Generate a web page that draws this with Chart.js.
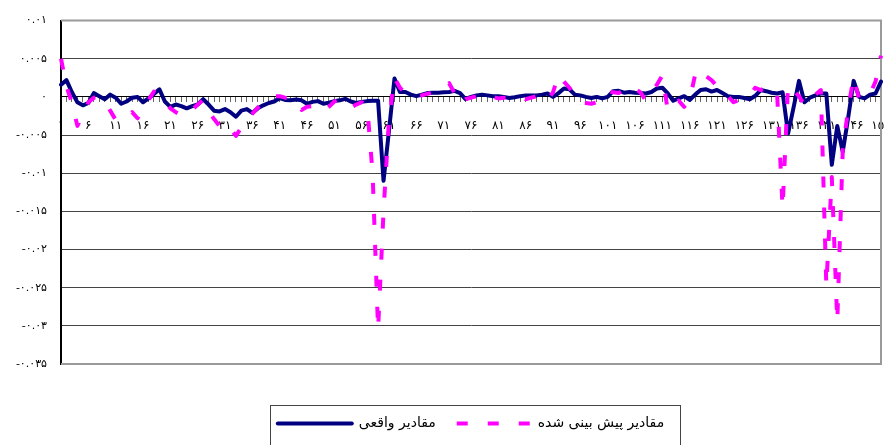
<!DOCTYPE html>
<html>
<head>
<meta charset="utf-8">
<script src="https://cdn.jsdelivr.net/npm/chart.js@4.4.1/dist/chart.umd.min.js"></script>
<style>
    html, body { margin: 0; padding: 0; background: #fff; }
</style>
</head>
<body>
<canvas id="myChart" width="884" height="445"></canvas>
<script>
// actual values (navy line), one per period
const actual = [
    0.0016, 0.0022, 0.0006, -0.0007, -0.0011, -0.0008, 0.0005, 0.0001, -0.0003, 0.0003,
    -0.0001, -0.0009, -0.0006, -0.0001, 0.0000, -0.0007, -0.0002, 0.0004, 0.0010, -0.0006,
    -0.0013, -0.0010, -0.0012, -0.0015, -0.0012, -0.0010, -0.0003, -0.0010, -0.0018, -0.0019,
    -0.0016, -0.0020, -0.0026, -0.0018, -0.0016, -0.0021, -0.0015, -0.0011, -0.0008, -0.0006,
    -0.00015, -0.0004, -0.00045, -0.00035, -0.00045, -0.0009, -0.00065, -0.00055, -0.0009, -0.00075,
    -0.00055, -0.00045, -0.00025, -0.0006, -0.0008, -0.00065, -0.00055, -0.0005, -0.0005, -0.0110,
    -0.0044, 0.0024, 0.00065, 0.00065, 0.0003, 0.0001, 0.0003, 0.0005, 0.00055, 0.00055,
    0.0006, 0.00065, 0.0008, 0.0005, -0.0003, 0.0000, 0.0002, 0.0003, 0.0002, 0.0001,
    0.0001, 0.0000, -0.00015, -0.00005, 0.0001, 0.0002, 0.0002, 0.0002, 0.0003, 0.00045,
    0.0000, 0.0005, 0.0011, 0.0010, 0.0003, 0.0002, 0.0000, -0.00015, 0.0000, -0.0002,
    0.0000, 0.00075, 0.0008, 0.00055, 0.00065, 0.00055, 0.0005, 0.00045, 0.00065, 0.0011,
    0.0012, 0.00045, -0.0005, -0.0002, 0.0001, -0.0004, 0.0003, 0.0009, 0.0010, 0.0007,
    0.0009, 0.0005, 0.0001, 0.0000, 0.0000, -0.00015, -0.0003, 0.00015, 0.0009, 0.00075,
    0.00055, 0.00045, 0.0006, -0.0048, -0.0014, 0.0021, -0.0007, -0.0001, 0.0002, 0.00045,
    0.00045, -0.0089, -0.0038, -0.0072, -0.0027, 0.0021, 0.0000, -0.0002, 0.0003, 0.00045,
    0.0020
];

// predicted values (magenta dashed line)
const predicted = [
    0.0050, 0.0014, -0.0008, -0.0038, -0.0022, -0.0007, -0.0001, 0.0000, -0.0006, -0.0018,
    -0.0030, -0.0031, -0.0026, -0.0020, -0.0028, -0.0016, -0.0004, 0.0007, 0.0004, -0.0006,
    -0.0015, -0.0020, -0.0024, -0.0024, -0.0017, -0.0010, -0.0004, -0.0019, -0.0029, -0.0038,
    -0.0046, -0.0042, -0.0051, -0.0040, -0.0030, -0.0022, -0.0014, -0.0007, -0.0002, 0.0001,
    0.0001, -0.0001, -0.0002, -0.0005, -0.0017, -0.0013, -0.0012, -0.0014, -0.0019, -0.0013,
    -0.0006, -0.0003, -0.0008, -0.0014, -0.0010, -0.0007, -0.0012, -0.0100, -0.0305, -0.0150,
    -0.0030, 0.0025, 0.0012, 0.0005, 0.0003, 0.0000, 0.0002, 0.0004, 0.0006, 0.0009,
    0.0014, 0.0018, 0.0005, -0.0009, -0.0003, -0.0001, 0.0001, 0.0003, 0.0004, 0.0000,
    -0.0002, -0.0001, -0.0001, 0.0001, 0.0000, -0.0003, -0.0001, 0.0001, 0.0003, -0.0004,
    0.0006, 0.0029, 0.0020, 0.0012, 0.0002, -0.0007, -0.0008, -0.0009, -0.0007, 0.0002,
    0.0008, 0.0006, 0.0005, 0.0009, 0.0015, 0.0011, 0.0006, -0.0005, 0.0006, 0.0016,
    0.0028, -0.0018, -0.0012, -0.0005, -0.0013, -0.0004, 0.0029, 0.0019, 0.0027, 0.0022,
    0.0014, 0.0004, 0.0001, -0.0007, -0.0004, -0.0002, 0.0002, 0.0012, 0.0009, 0.0012,
    0.0013, 0.0004, -0.0146, 0.0016, 0.0008, 0.0001, -0.0011, -0.0002, 0.0003, 0.0009,
    -0.0248, -0.0105, -0.0295, -0.0070, -0.0015, 0.0026, -0.0003, 0.0000, 0.0004, 0.0020,
    0.0054
];

// periods 1..151
const categories = [];
for (let i = 1; i <= actual.length; i++) {
    categories.push(i);
}

const yTickValues = [-0.035, -0.03, -0.025, -0.02, -0.015, -0.01, -0.005, 0, 0.005, 0.01];
const yTickLabels = ['-۰.۰۳۵', '-۰.۰۳', '-۰.۰۲۵', '-۰.۰۲', '-۰.۰۱۵', '-۰.۰۱', '-۰.۰۰۵', '۰', '۰.۰۰۵', '۰.۰۱'];

const actualName = 'مقادیر واقعی';
const predictedName = 'مقادیر پیش بینی شده';

function toFa(n) {
    return String(n).replace(/\d/g, d => '۰۱۲۳۴۵۶۷۸۹'[d]);
}

Chart.defaults.font.family = "'DejaVu Sans', sans-serif";
Chart.defaults.color = '#000';

// plot frame, legend placement and legend border
const frame = {
    id: 'frame',
    afterLayout(chart) {
        const lg = chart.legend;
        const d = 395.5 - lg.top;
        lg.top += d;
        lg.bottom += d;
    },
    beforeDatasetsDraw(chart) {
        const {ctx, chartArea: a} = chart;
        ctx.save();
        ctx.strokeStyle = '#9a9a9a';
        ctx.lineWidth = 2;
        ctx.beginPath();
        ctx.moveTo(a.left, a.top);
        ctx.lineTo(a.right, a.top);
        ctx.lineTo(a.right, a.bottom);
        ctx.lineTo(a.left, a.bottom);
        ctx.stroke();
        ctx.restore();
    },
    afterDraw(chart) {
        const {ctx} = chart;
        const hb = chart.legend.legendHitBoxes;
        if (!hb || !hb.length) return;
        const left = hb[0].left - 8;
        const last = hb[hb.length - 1];
        const right = last.left + last.width + 16;
        ctx.save();
        ctx.strokeStyle = '#444';
        ctx.lineWidth = 1;
        ctx.strokeRect(Math.round(left) + 0.5, 405.5, Math.round(right - left), 60);
        ctx.restore();
    }
};

new Chart(document.getElementById('myChart'), {
    type: 'line',
    data: {
        labels: categories,
        datasets: [
            {
                label: predictedName,
                data: predicted,
                borderColor: '#ff00ff',
                backgroundColor: '#ff00ff',
                borderWidth: 4,
                borderDash: [11, 20],
                borderJoinStyle: 'round',
                pointRadius: 0,
                pointStyle: 'line',
                tension: 0
            },
            {
                label: actualName,
                data: actual,
                borderColor: '#000080',
                backgroundColor: '#000080',
                borderWidth: 4,
                borderJoinStyle: 'round',
                borderCapStyle: 'round',
                pointRadius: 0,
                pointStyle: 'line',
                tension: 0
            }
        ]
    },
    options: {
        responsive: false,
        animation: false,
        devicePixelRatio: 1,
        layout: {
            padding: { top: 19, right: 3, left: 0, bottom: 36 }
        },
        plugins: {
            tooltip: { enabled: false },
            legend: {
                position: 'bottom',
                fullSize: false,
                reverse: true,
                labels: {
                    usePointStyle: true,
                    pointStyleWidth: 74,
                    padding: 21,
                    color: '#000',
                    font: { size: 14 },
                    generateLabels: function (chart) {
                        const items = Chart.defaults.plugins.legend.labels.generateLabels(chart);
                        items.forEach(function (it) {
                            const ds = chart.data.datasets[it.datasetIndex];
                            it.lineDash = ds.borderDash || [];
                            it.lineWidth = ds.borderWidth;
                            it.strokeStyle = ds.borderColor;
                            it.fillStyle = ds.borderColor;
                            it.lineCap = ds.borderCapStyle || 'butt';
                        });
                        return items;
                    }
                }
            }
        },
        scales: {
            x: {
                type: 'category',
                offset: false,
                position: { y: 0 },
                afterFit: function (scale) {
                    scale.paddingLeft = 0;
                    scale.paddingRight = 0;
                },
                grid: {
                    drawOnChartArea: false,
                    drawTicks: true,
                    tickLength: 5,
                    color: '#666'
                },
                border: { color: '#000', width: 1 },
                ticks: {
                    autoSkip: false,
                    maxRotation: 0,
                    minRotation: 0,
                    padding: 17,
                    font: { size: 12 },
                    callback: function (value, index) {
                        return index % 5 === 0 ? toFa(categories[index]) : '';
                    }
                }
            },
            y: {
                min: -0.035,
                max: 0.01,
                afterBuildTicks: function (scale) {
                    scale.ticks = yTickValues.map(v => ({ value: v }));
                },
                afterFit: function (scale) {
                    scale.width = 61;
                },
                grid: {
                    drawTicks: false,
                    color: function (ctx) {
                        const v = ctx.tick.value;
                        if (v === 0.01 || v === -0.035) return 'rgba(0,0,0,0)';
                        if (v === 0) return '#000';
                        return '#444';
                    },
                    lineWidth: 1
                },
                border: { color: '#000', width: 2 },
                ticks: {
                    padding: 14,
                    font: { size: 11 },
                    callback: function (value, index) {
                        return yTickLabels[index];
                    }
                }
            }
        }
    },
    plugins: [frame]
});
</script>
</body>
</html>
